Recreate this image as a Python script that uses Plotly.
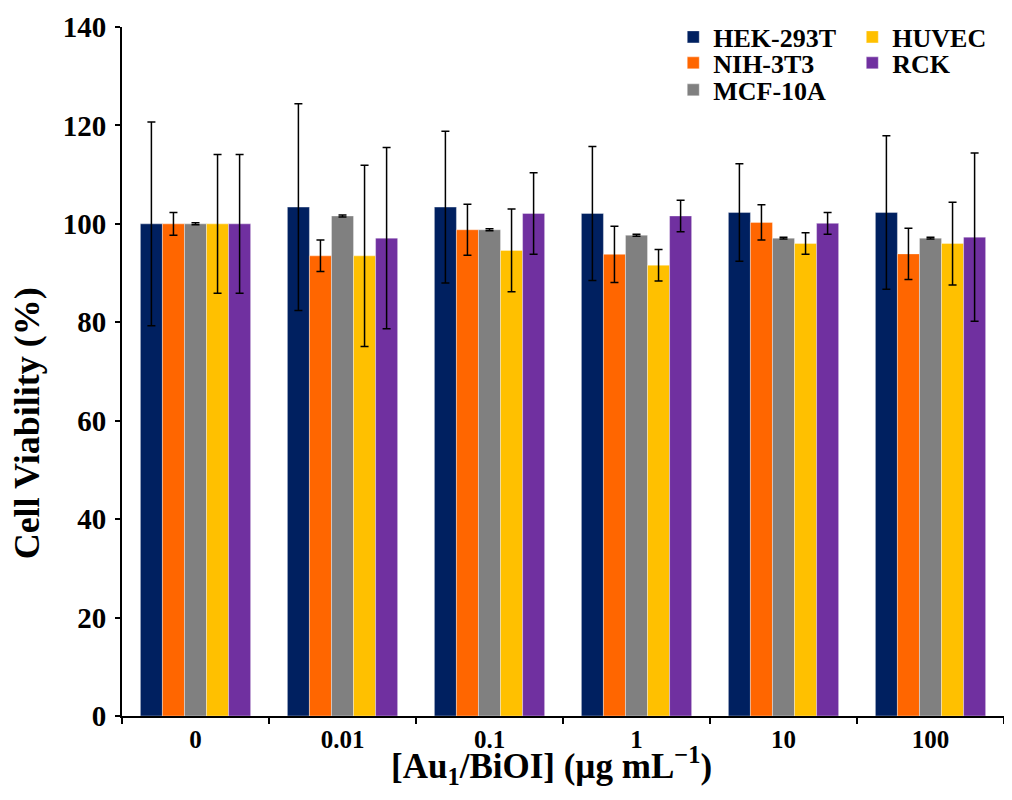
import plotly.graph_objects as go

categories = ["0", "0.01", "0.1", "1", "10", "100"]
series_names = ["HEK-293T", "NIH-3T3", "MCF-10A", "HUVEC", "RCK"]
colors = ["#002060", "#FF6600", "#808080", "#FFC000", "#7030A0"]

hek_vals = [100.0, 103.4, 103.4, 102.1, 102.3, 102.3]
hek_err = [20.7, 21.0, 15.4, 13.6, 9.9, 15.6]
nih_vals = [100.0, 93.5, 98.8, 93.8, 100.3, 93.9]
nih_err = [2.3, 3.2, 5.2, 5.7, 3.6, 5.2]
mcf_vals = [100.0, 101.6, 98.8, 97.7, 97.1, 97.1]
mcf_err = [0.2, 0.2, 0.2, 0.2, 0.2, 0.2]
huvec_vals = [100.0, 93.5, 94.6, 91.6, 96.0, 96.0]
huvec_err = [14.1, 18.4, 8.4, 3.2, 2.2, 8.4]
rck_vals = [100.0, 97.1, 102.1, 101.6, 100.1, 97.3]
rck_err = [14.1, 18.4, 8.3, 3.2, 2.2, 17.1]

x_title = "[Au<sub>1</sub>/BiOI] (µg mL<sup>−1</sup>)"
y_title = "Cell Viability (%)"

values = [hek_vals, nih_vals, mcf_vals, huvec_vals, rck_vals]
errors = [hek_err, nih_err, mcf_err, huvec_err, rck_err]

# legend placement (paper coords): two columns, column-major order
legend_ids = ["legend", "legend2", "legend3", "legend4", "legend5"]
legend_x = [0.625, 0.625, 0.625, 0.828, 0.828]
legend_y = [0.9855, 0.9478, 0.9086, 0.9855, 0.9478]

FONT = "Liberation Serif"

fig = go.Figure()
for name, col, v, e, lg in zip(series_names, colors, values, errors, legend_ids):
    fig.add_trace(go.Bar(
        x=categories, y=v, name=name, showlegend=True,
        marker=dict(color=col, line=dict(width=0.6, color="rgba(255,255,255,0.6)")),
        error_y=dict(type="data", array=e, visible=True, color="black",
                     thickness=1.5, width=4),
        legend=lg,
    ))

legend_font = dict(family=FONT, size=26, color="black", weight="bold")
legends = {}
for lg, lx, ly in zip(legend_ids, legend_x, legend_y):
    legends[lg] = dict(x=lx, y=ly, xanchor="left", yanchor="middle",
                       font=legend_font, tracegroupgap=0, itemwidth=30,
                       bgcolor="rgba(0,0,0,0)", visible=True)

fig.update_layout(
    width=996, height=784,
    margin=dict(l=114, r=0, t=19, b=76),
    paper_bgcolor="white", plot_bgcolor="white",
    showlegend=True,
    barmode="group", bargap=0.25, bargroupgap=0,
    font=dict(family=FONT, color="black"),
    xaxis=dict(
        automargin=False,
        showline=True, linecolor="black", linewidth=2,
        ticks="outside", tickson="boundaries", ticklen=6, tickwidth=2,
        tickcolor="black",
        tickfont=dict(family=FONT, size=25, color="black", weight="bold"),
        ticklabelstandoff=0,
        showgrid=False,
    ),
    yaxis=dict(
        automargin=False,
        range=[0, 140], dtick=20,
        showline=True, linecolor="black", linewidth=2,
        ticks="outside", ticklen=5, tickwidth=2, tickcolor="black",
        tickfont=dict(family=FONT, size=29, color="black", weight="bold"),
        ticklabelstandoff=3,
        showgrid=False, zeroline=False,
    ),
    annotations=[
        dict(text=x_title, xref="paper", yref="paper", x=0.487, y=-0.111,
             xanchor="center", yanchor="bottom", showarrow=False,
             font=dict(family=FONT, size=35, color="black", weight="bold")),
        dict(text=y_title, xref="paper", yref="paper", x=-0.1075, y=0.425,
             xanchor="center", yanchor="middle", showarrow=False, textangle=-90,
             font=dict(family=FONT, size=36, color="black", weight="bold")),
    ],
    **legends,
)

fig.write_html("out.html")
